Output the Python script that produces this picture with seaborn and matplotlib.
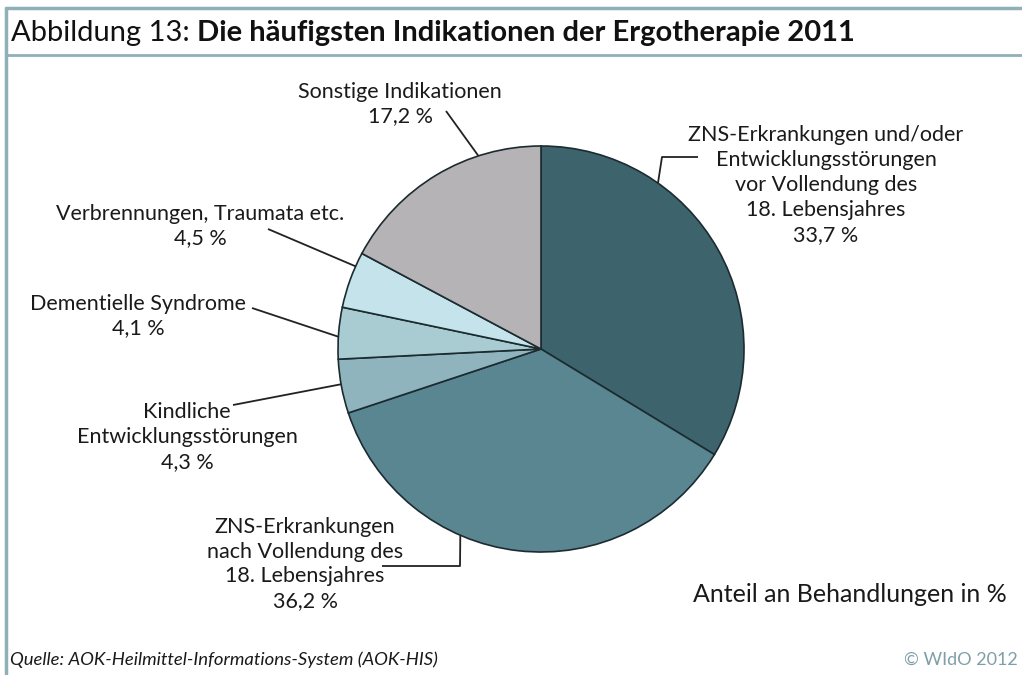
import matplotlib.pyplot as plt
import seaborn as sns
import numpy as np
import pandas as pd

sns.set_theme(style="white")
plt.rcParams["font.family"] = ["Lato", "DejaVu Sans"]

# --------------------------------------------------
# Data
# --------------------------------------------------

categories = [
    "ZNS-Erkrankungen und/oder\nEntwicklungsstörungen\nvor Vollendung des\n18. Lebensjahres",
    "ZNS-Erkrankungen\nnach Vollendung des\n18. Lebensjahres",
    "Kindliche\nEntwicklungsstörungen",
    "Dementielle Syndrome",
    "Verbrennungen, Traumata etc.",
    "Sonstige Indikationen",
]
shares = [33.7, 36.2, 4.3, 4.1, 4.5, 17.2]
colors = ["#3d636d", "#5a8691", "#8fb4bd", "#a9ccd3", "#c4e3ea", "#b5b3b5"]

df = pd.DataFrame({"category": categories, "share": shares, "color": colors})

# --------------------------------------------------
# Layout (figure pixels, y down)
# --------------------------------------------------

W, H = 1022, 675
center = (541, 349)
radius = 203

# label centre, where on the wedge the leader starts (0..1), leader path
label_pos = [(826, 185), (305, 564), (187, 437), (138, 316), (200, 226), (400, 104)]
anchor_frac = [0.29, 0.63, 0.54, 0.43, 0.75, 0.71]
leader_path = [
    [(662, 157), (698, 157)],
    [(460, 566), (382, 566)],
    [(233, 405)],
    [(252, 308)],
    [(268, 229)],
    [(446, 111)],
]

fig = plt.figure(figsize=(W / 100, H / 100), dpi=100)
ax = fig.add_axes([0, 0, 1, 1])

wedges, _ = ax.pie(
    df["share"],
    colors=df["color"],
    startangle=-90,
    counterclock=True,
    center=center,
    radius=radius,
    wedgeprops=dict(edgecolor="#1c2b30", linewidth=1.2),
)

ax.set_xlim(0, W)
ax.set_ylim(H, 0)
ax.set_aspect("equal")
ax.axis("off")

for i, w in enumerate(wedges):
    th = np.deg2rad(w.theta1 + anchor_frac[i] * (w.theta2 - w.theta1))
    ax0 = center[0] + radius * np.cos(th)
    ay0 = center[1] + radius * np.sin(th)
    pts = [(ax0, ay0)] + leader_path[i]
    xs, ys = zip(*pts)
    ax.plot(xs, ys, color="#222222", lw=1.3, solid_capstyle="butt")

    val = f"{df['share'][i]:.1f}".replace(".", ",") + " %"
    ax.text(label_pos[i][0], label_pos[i][1], df["category"][i] + "\n" + val,
            ha="center", va="center", multialignment="center",
            fontsize=15.5, linespacing=1.3, color="#1a1a1a")

ax.text(693, 595, "Anteil an Behandlungen in %", ha="left", va="center",
        fontsize=18, color="#1a1a1a")

# frame and title
frame_col = "#8fb0b8"
ax.plot([6, 6], [8, H], color=frame_col, lw=2.5, clip_on=False)
ax.plot([6, W], [8, 8], color=frame_col, lw=2.5, clip_on=False)
ax.plot([6, W], [55, 55], color=frame_col, lw=2, clip_on=False)

t1 = ax.text(11, 33, "Abbildung 13: ", ha="left", va="center", fontsize=21,
             color="#111111")
fig.canvas.draw()
bb = t1.get_window_extent()
ax.text(bb.x1, 33, "Die häufigsten Indikationen der Ergotherapie 2011",
        ha="left", va="center", fontsize=21, fontweight="bold", color="#111111")

ax.text(10, 660, "Quelle: AOK-Heilmittel-Informations-System (AOK-HIS)",
        ha="left", va="center", fontsize=13.3, style="italic", color="#1a1a1a")
ax.text(1018, 660, "© WIdO 2012", ha="right", va="center", fontsize=13,
        color="#7f9ea7")

plt.savefig("out.png", dpi=100)
